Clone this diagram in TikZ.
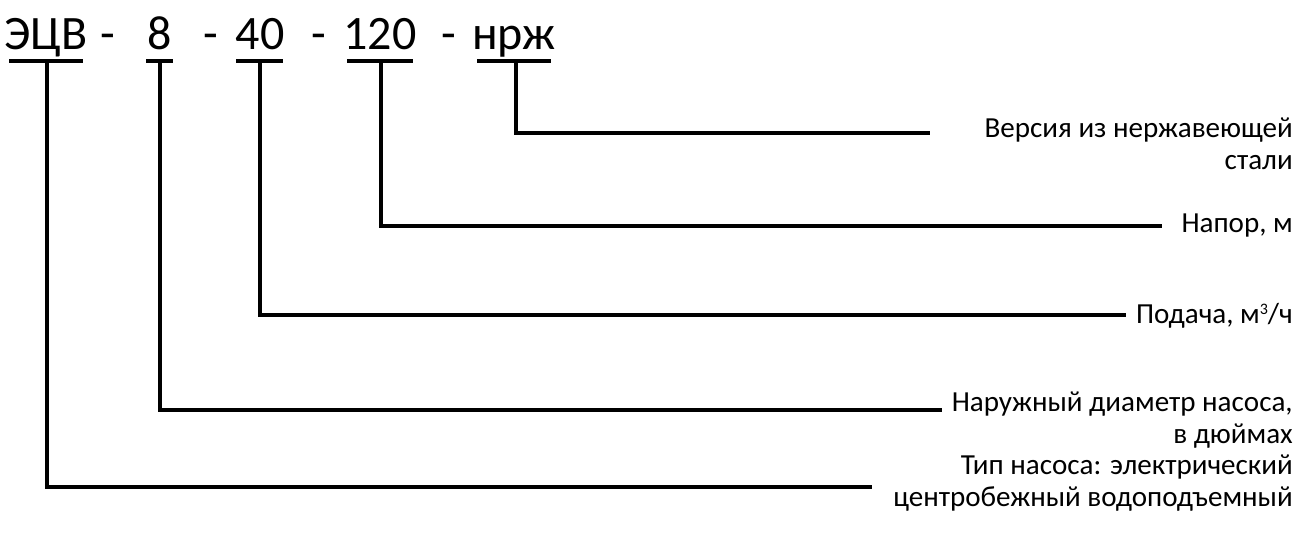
\documentclass[tikz,border=0pt]{standalone}
\usepackage{fontspec}
\setmainfont{Carlito}
\newcommand{\supthree}{\raisebox{7pt}{\fontsize{12}{12}\selectfont 3}}
\begin{document}
\begin{tikzpicture}[x=0.75pt,y=-0.75pt,
  code/.style={font=\fontsize{36}{40}\selectfont, inner sep=0pt, anchor=base},
  lab/.style={font=\fontsize{21.8}{24}\selectfont, align=right, anchor=east, inner sep=0pt},
  ln/.style={line width=3pt, line cap=rect},
  ul/.style={line width=2.5pt}]
\useasboundingbox (0,0) rectangle (1298,542);
% code parts
\node[code] (c1) at (46,50) {ЭЦВ};
\node[code] (d1) at (108,50) {-};
\node[code] (c2) at (160,50) {8};
\node[code] (d2) at (211,50) {-};
\node[code] (c3) at (260,50) {40};
\node[code] (d3) at (319,50) {-};
\node[code] (c4) at (380,50) {120};
\node[code] (d4) at (449,50) {-};
\node[code] (c5) at (514,50) {нрж};
% underlines
\draw[ul] (9,61) -- (83,61);
\draw[ul] (146,61) -- (173,61);
\draw[ul] (236,61) -- (283,61);
\draw[ul] (347,61) -- (413,61);
\draw[ul] (477,61) -- (551,61);
\coordinate (u1) at (47,61);
\coordinate (u2) at (160,61);
\coordinate (u3) at (260,61);
\coordinate (u4) at (381,61);
\coordinate (u5) at (516,61);
% labels
\node[lab] (l1) at (1293,483) {Тип насоса: электрический\\центробежный водоподъемный};
\node[lab] (l2) at (1293,420) {Наружный диаметр насоса,\\в дюймах};
\node[lab] (l3) at (1293,316) {Подача, м\supthree/ч};
\node[lab] (l4) at (1293,226) {Напор, м};
\node[lab] (l5) at (1293,144) {Версия из нержавеющей\\стали};
% line ends
\coordinate (e1) at (870,487);
\coordinate (e2) at (940,410);
\coordinate (e3) at (1124,315);
\coordinate (e4) at (1160,226);
\coordinate (e5) at (928,133);
\draw[ln] (u1) |- (e1);
\draw[ln] (u2) |- (e2);
\draw[ln] (u3) |- (e3);
\draw[ln] (u4) |- (e4);
\draw[ln] (u5) |- (e5);
\end{tikzpicture}
\end{document}
